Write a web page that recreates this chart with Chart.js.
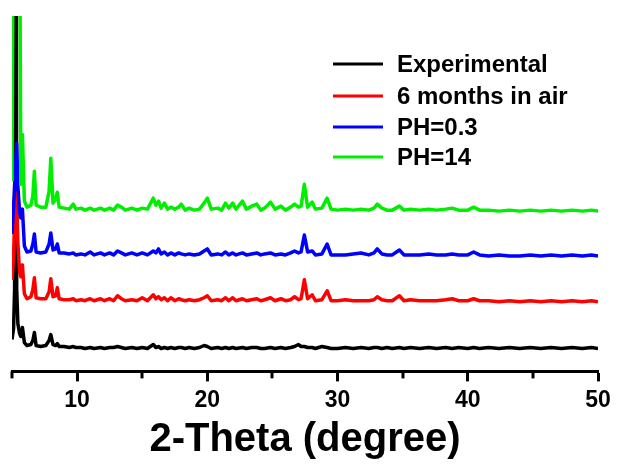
<!DOCTYPE html>
<html>
<head>
<meta charset="utf-8">
<script src="https://cdn.jsdelivr.net/npm/chart.js@4.4.1/dist/chart.umd.min.js"></script>
<style>
  html, body { margin: 0; padding: 0; background: #ffffff; }
  canvas { display: block; }
</style>
</head>
<body>
<canvas id="xrd" width="617" height="464"></canvas>
<script>
// 2-theta positions (degree) shared by all four powder patterns
const twoTheta = [
  5.00, 5.12, 5.20, 5.28, 5.36, 5.45, 5.58, 5.68, 5.80, 5.95,
  6.15, 6.45, 6.60, 6.72, 6.85, 7.20, 7.60, 7.85, 7.98, 8.15,
  8.35, 8.48, 8.62, 9.00, 9.40, 9.70, 9.90, 10.3, 10.6, 11.0,
  11.3, 11.8, 12.1, 12.5, 12.8, 13.1, 13.4, 13.7, 14.2, 14.6,
  15.0, 15.4, 15.85, 16.05, 16.25, 16.45, 16.7, 16.95, 17.2, 17.5,
  17.8, 18.0, 18.3, 18.6, 19.0, 19.4, 19.75, 20.0, 20.3, 20.8,
  21.1, 21.4, 21.65, 21.95, 22.2, 22.7, 23.0, 23.4, 23.8, 24.1,
  24.4, 24.85, 25.2, 25.65, 26.0, 26.4, 26.7, 27.0, 27.2, 27.45,
  27.7, 28.05, 28.3, 28.8, 29.2, 29.5, 30.0, 30.6, 31.2, 31.8,
  32.4, 32.8, 33.05, 33.4, 33.8, 34.2, 34.75, 35.1, 35.6, 36.3,
  37.0, 37.6, 38.3, 38.8, 39.3, 40.0, 40.45, 40.9, 41.6, 42.4,
  43.2, 44.0, 44.8, 45.6, 46.4, 47.2, 48.0, 48.8, 49.5, 50.0
];

// Intensities (a.u.) above each pattern's own baseline
const experimental = [
  9, 20, 60, 1200, 60, 25, 15, 12, 21, 6,
  3, 4, 8, 16, 3, 2, 3, 8, 14, 4,
  3, 5, 2, 2, 1, 2, 1, 1, 0, 1,
  0, 1, 0, 1, 1, 2, 1, 0, 1, 0,
  1, 0, 4, 1, 2, 0, 1, 0, 1, 0,
  1, 1, 0, 1, 0, 1, 3, 2, 0, 1,
  0, 1, 0, 1, 0, 1, 0, 1, 1, 0,
  0, 1, 0, 1, 0, 1, 2, 4, 2, 2,
  1, 1, 0, 2, 1, 0, 0, 1, 0, 1,
  0, 1, 1, 0, 1, 0, 1, 0, 1, 0,
  1, 0, 1, 0, 1, 0, 1, 0, 1, 0,
  1, 0, 1, 0, 1, 0, 1, 0, 1, 0
];
const airSixMonths = [
  22, 45, 80, 110, 100, 60, 30, 25, 37, 8,
  3, 5, 12, 24, 4, 3, 3, 10, 23, 5,
  6, 14, 3, 2, 2, 3, 1, 2, 1, 3,
  1, 3, 1, 3, 1, 6, 3, 1, 2, 1,
  4, 1, 7, 3, 5, 2, 4, 1, 4, 1,
  3, 2, 1, 2, 1, 2, 4, 6, 1, 2,
  1, 4, 1, 4, 1, 3, 1, 2, 3, 1,
  2, 4, 1, 3, 1, 2, 5, 2, 3, 22,
  3, 7, 1, 2, 11, 1, 1, 2, 1, 1,
  1, 2, 5, 2, 1, 1, 6, 1, 2, 1,
  1, 1, 2, 3, 1, 1, 3, 1, 1, 0,
  1, 0, 1, 0, 1, 0, 1, 0, 1, 0
];
const ph03 = [
  22, 50, 70, 90, 113, 70, 45, 38, 47, 10,
  4, 5, 12, 22, 4, 3, 4, 12, 23, 6,
  7, 12, 3, 3, 2, 3, 1, 2, 1, 4,
  1, 3, 1, 3, 1, 5, 3, 1, 3, 1,
  3, 1, 5, 3, 7, 2, 4, 1, 3, 1,
  3, 2, 1, 2, 1, 2, 5, 7, 1, 2,
  1, 4, 1, 3, 1, 3, 1, 2, 3, 1,
  2, 3, 1, 2, 1, 3, 5, 3, 4, 21,
  4, 5, 1, 2, 12, 1, 1, 1, 2, 3,
  1, 3, 7, 2, 1, 1, 6, 1, 1, 1,
  2, 1, 1, 2, 1, 1, 4, 1, 0, 1,
  0, 0, 1, 0, 1, 0, 1, 0, 1, 0
];
const ph14 = [
  30, 400, 700, 350, 300, 600, 330, 27, 77, 10,
  4, 6, 15, 40, 6, 4, 4, 20, 53, 8,
  12, 19, 4, 3, 2, 7, 2, 3, 1, 3,
  1, 3, 1, 3, 1, 6, 4, 1, 3, 1,
  3, 2, 13, 6, 10, 3, 8, 2, 4, 2,
  4, 7, 1, 3, 1, 2, 8, 13, 2, 3,
  1, 8, 3, 8, 2, 10, 2, 5, 7, 1,
  3, 9, 2, 5, 1, 4, 7, 4, 5, 27,
  4, 9, 2, 3, 13, 2, 1, 2, 1, 2,
  1, 3, 7, 3, 1, 1, 5, 1, 2, 1,
  2, 1, 2, 3, 1, 1, 4, 1, 1, 0,
  1, 0, 1, 0, 1, 0, 1, 0, 1, 0
];

const seriesNames = ['Experimental', '6 months in air', 'PH=0.3', 'PH=14'];
const seriesValues = [experimental, airSixMonths, ph03, ph14];
const seriesColors = ['#000000', '#ff0000', '#0000ff', '#00ee00'];
// vertical stacking offsets so the patterns do not overlap
const stackOffsets = [23, 70, 116, 161];
const majorTicks = [10, 20, 30, 40, 50];
const minorTicks = [5, 15, 25, 35, 45];

const datasets = seriesNames.map((name, s) => ({
  label: name,
  data: twoTheta.map((t, i) => ({ x: t, y: seriesValues[s][i] + stackOffsets[s] })),
  borderColor: seriesColors[s],
  backgroundColor: seriesColors[s],
  borderWidth: 3.5,
  borderJoinStyle: 'round',
  pointRadius: 0,
  tension: 0,
  fill: false,
  order: seriesNames.length - 1 - s
}));

const TEXT_FONT = "'Liberation Sans', Arial, sans-serif";

// short minor ticks halfway between the labelled ticks
const minorTickPlugin = {
  id: 'minorTicks',
  afterDraw(chart) {
    const xs = chart.scales.x;
    const ctx = chart.ctx;
    const y0 = chart.chartArea.bottom;
    ctx.save();
    ctx.strokeStyle = '#000';
    ctx.lineWidth = 3;
    minorTicks.forEach(v => {
      const px = Math.round(xs.getPixelForValue(v));
      ctx.beginPath();
      ctx.moveTo(px, y0);
      ctx.lineTo(px, y0 + 7);
      ctx.stroke();
    });
    ctx.restore();
  }
};

// vertical legend inside the upper right of the plot
const insideLegendPlugin = {
  id: 'insideLegend',
  afterDraw(chart) {
    const ctx = chart.ctx;
    const lineX0 = 333, lineX1 = 383, textX = 397;
    const rowY = [64, 96, 127, 157];
    ctx.save();
    ctx.font = "bold 24px " + TEXT_FONT;
    ctx.textBaseline = 'middle';
    ctx.textAlign = 'left';
    chart.data.datasets.forEach((ds, i) => {
      ctx.strokeStyle = ds.borderColor;
      ctx.lineWidth = 3;
      ctx.beginPath();
      ctx.moveTo(lineX0, rowY[i]);
      ctx.lineTo(lineX1, rowY[i]);
      ctx.stroke();
      ctx.fillStyle = '#000';
      ctx.fillText(ds.label, textX, rowY[i] + 1);
    });
    ctx.restore();
  }
};

new Chart(document.getElementById('xrd'), {
  type: 'line',
  data: { datasets },
  options: {
    responsive: false,
    animation: false,
    devicePixelRatio: 1,
    layout: { padding: { left: 12, right: 19, top: 16, bottom: 1 } },
    plugins: {
      legend: { display: false },
      tooltip: { enabled: false }
    },
    scales: {
      x: {
        type: 'linear',
        min: 5,
        max: 50,
        afterBuildTicks(scale) {
          scale.ticks = majorTicks.map(v => ({ value: v }));
        },
        border: { display: true, color: '#000', width: 3 },
        grid: {
          drawOnChartArea: false,
          drawTicks: true,
          tickLength: 10,
          tickWidth: 3,
          tickColor: '#000'
        },
        ticks: {
          color: '#000',
          padding: 5,
          maxRotation: 0,
          font: { family: TEXT_FONT, size: 23, weight: 'bold' }
        },
        title: {
          display: true,
          text: '2-Theta (degree)',
          color: '#000',
          padding: { top: 1, bottom: 3 },
          font: { family: TEXT_FONT, size: 40, weight: 'bold', lineHeight: 1 }
        }
      },
      y: {
        display: false,
        min: 0,
        max: 357
      }
    }
  },
  plugins: [minorTickPlugin, insideLegendPlugin]
});
</script>
</body>
</html>
